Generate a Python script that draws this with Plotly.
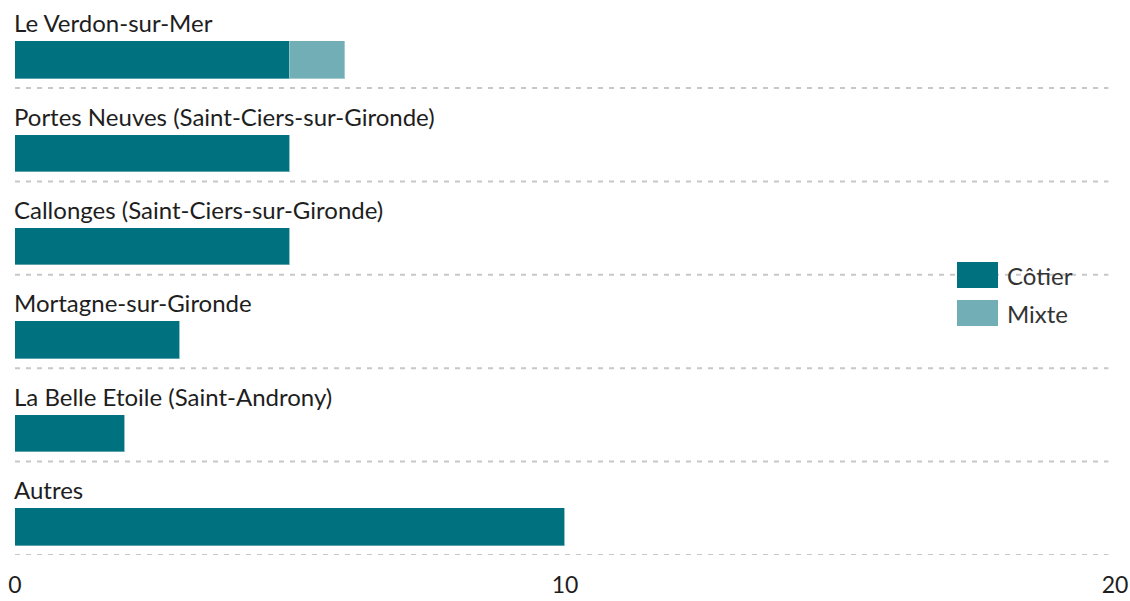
import plotly.graph_objects as go

categories = [
    "Le Verdon-sur-Mer",
    "Portes Neuves (Saint-Ciers-sur-Gironde)",
    "Callonges (Saint-Ciers-sur-Gironde)",
    "Mortagne-sur-Gironde",
    "La Belle Etoile (Saint-Androny)",
    "Autres",
]
cotier = [5, 5, 5, 3, 2, 10]
mixte = [1, 0, 0, 0, 0, 0]
series_names = ["Côtier", "Mixte"]
series_colors = ["#00717f", "#71aeb6"]
x_ticks = [0, 10, 20]

FONT = "Lato"
TXT = "#1e1e1e"

n = len(categories)
bar_pos = [i + 0.70 for i in range(n)]
label_pos = [i + 0.30 for i in range(n)]

PLOT_H = 555

fig = go.Figure()
for name, vals, col in zip(series_names, [cotier, mixte], series_colors):
    fig.add_trace(go.Bar(
        x=vals, y=bar_pos, orientation="h", name=name,
        marker=dict(color=col, line=dict(color="rgba(255,255,255,0.35)", width=1)),
        width=0.40, showlegend=False, hoverinfo="x+name",
    ))

for cat, yp in zip(categories, label_pos):
    fig.add_annotation(x=0, y=yp, xref="x", yref="y", text=cat, showarrow=False,
                       xanchor="left", yanchor="middle", xshift=-3,
                       font=dict(family=FONT, size=24, color=TXT))

for i in range(n):
    fig.add_shape(type="line", xref="paper", yref="y", x0=0, x1=0.994,
                  y0=i + 1, y1=i + 1,
                  line=dict(color="#c8c8c8", width=2, dash="5px,6px"), layer="below")

# custom legend
legend_rows = [(series_names[0], series_colors[0], 275), (series_names[1], series_colors[1], 313)]
for name, col, py in legend_rows:
    yc = 1 - py / PLOT_H
    fig.add_shape(type="rect", xref="paper", yref="paper",
                  x0=(957 - 15) / 1100, x1=(998 - 15) / 1100,
                  y0=yc - 13 / PLOT_H, y1=yc + 13 / PLOT_H,
                  fillcolor=col, line=dict(width=0))
    fig.add_annotation(x=(1005 - 15) / 1100, y=yc, xref="paper", yref="paper",
                       text=name, showarrow=False, xanchor="left", yanchor="middle",
                       font=dict(family=FONT, size=24, color="#333333"))

fig.update_layout(
    width=1130, height=601,
    margin=dict(l=15, r=15, t=0, b=601 - PLOT_H),
    paper_bgcolor="white", plot_bgcolor="white",
    barmode="stack", bargap=0,
    font=dict(family=FONT, size=24, color=TXT),
    xaxis=dict(range=[0, 20], tickvals=x_ticks, showgrid=False, zeroline=False,
               showline=False, ticks="", tickfont=dict(family=FONT, size=23, color=TXT),
               ticklabelstandoff=14,
               fixedrange=True, automargin=False),
    yaxis=dict(range=[6, 0.058], showgrid=False, zeroline=False,
               showline=False, showticklabels=False, ticks="", fixedrange=True,
               automargin=False),
)

fig.write_html("out.html", config={"displayModeBar": False},
               post_script="document.body.style.margin='0';document.body.style.overflow='hidden';")
